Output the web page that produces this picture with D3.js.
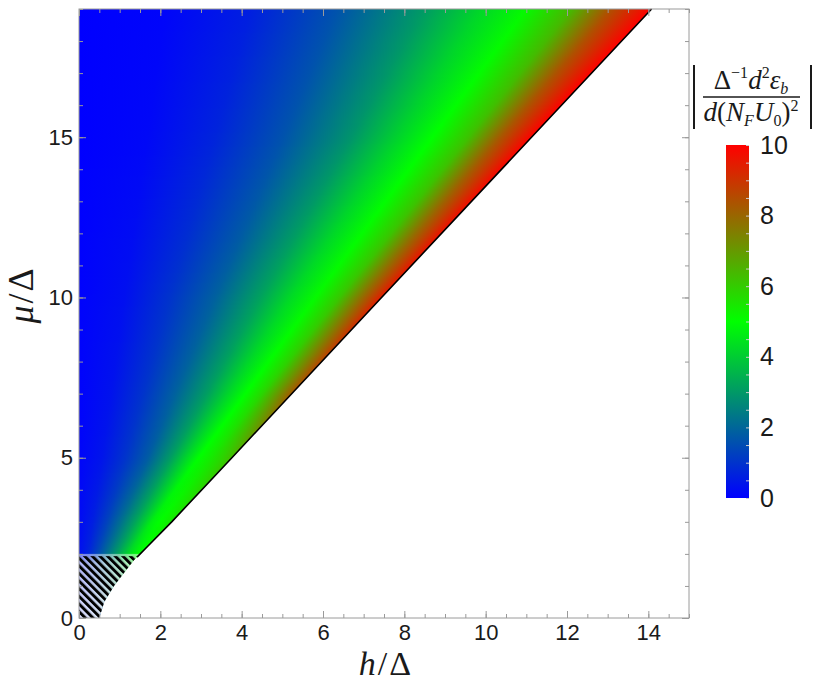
<!DOCTYPE html>
<html>
<head>
<meta charset="utf-8">
<script src="https://cdn.jsdelivr.net/npm/d3@7"></script>
<style>
  body { margin: 0; background: #fff; }
  text { font-family: "Liberation Sans", Arial, sans-serif; fill: #1a1a1a; }
  .math { font-family: "Liberation Serif", "DejaVu Serif", serif; }
</style>
</head>
<body>
<svg width="818" height="685"></svg>
<script>
// axis ticks
const hTicks = [0, 2, 4, 6, 8, 10, 12, 14];
const muTicks = [0, 5, 10, 15];
const cbTicks = [0, 2, 4, 6, 8, 10];

// edge of the allowed region, h/Δ as a function of μ/Δ
const boundaryMu = [0, 0.5, 1, 1.4, 1.8, 2.2, 3, 5, 10, 19];
const boundaryH  = [0.5, 0.62, 0.86, 1.1, 1.35, 1.66, 2.28, 3.76, 7.44, 14.08];

// colour value read along rows: t = h / h_edge(μ)
const tStops = [0, 0.15, 0.3, 0.45, 0.6, 0.7, 0.78, 0.86, 0.93, 1];
const rowMu = [2, 3, 5, 7, 10, 15, 19];
const rowVals = [
  [0.3, 0.7, 1.4, 2.2, 3.0, 3.6, 4.1, 4.5, 4.8, 5.0],    // μ=2
  [0.2, 0.6, 1.3, 2.2, 3.2, 4.0, 4.7, 5.0, 5.2, 5.4],    // μ=3
  [0.1, 0.4, 1.0, 1.8, 3.1, 4.2, 5.0, 5.4, 5.8, 6.3],    // μ=5
  [0.05, 0.35, 1.0, 1.9, 3.1, 4.2, 5.0, 5.8, 7.0, 8.3],  // μ=7
  [0.05, 0.3, 1.0, 1.9, 3.2, 4.3, 5.1, 6.1, 7.8, 9.5],   // μ=10
  [0.0, 0.15, 0.7, 1.6, 2.9, 4.1, 5.0, 6.2, 8.3, 10],    // μ=15
  [0.0, 0.1, 0.6, 1.6, 3.0, 4.2, 5.1, 6.4, 8.5, 10]      // μ=19
];

const svg = d3.select("svg");
const defs = svg.append("defs");

const x = d3.scaleLinear().domain([0, 15]).range([79, 689]);
const y = d3.scaleLinear().domain([0, 19]).range([618, 9]);
const color = d3.scaleLinear().domain([0, 5, 10])
  .range(["#0000ff", "#00ff00", "#ff0000"]).clamp(true);
const hb = d3.scaleLinear().domain(boundaryMu).range(boundaryH);

/* -----------------------------
   region clip
----------------------------- */
const edge = boundaryMu.map((m, i) => [boundaryH[i], m]);
const line = d3.line().x(d => x(d[0])).y(d => y(d[1]));
defs.append("clipPath").attr("id", "region")
  .append("path")
  .attr("d", line([[0, 0], ...edge, [0, 19]]) + "Z");

/* -----------------------------
   heat map, drawn row by row
----------------------------- */
const stopScales = tStops.map((t, j) =>
  d3.scaleLinear().domain(rowMu).range(rowVals.map(r => r[j])));

function rowGradient(id, mu) {
  const g = defs.append("linearGradient")
    .attr("id", id)
    .attr("gradientUnits", "userSpaceOnUse")
    .attr("x1", x(0)).attr("x2", x(hb(mu)))
    .attr("y1", 0).attr("y2", 0);
  tStops.forEach((t, j) => {
    g.append("stop").attr("offset", t).attr("stop-color", color(stopScales[j](mu)));
  });
}

const heat = svg.append("g").attr("clip-path", "url(#region)");
const dMu = 2 * 19 / 609;
let k = 0;
for (let m = 2; m < 19; m += dMu) {
  const top = Math.min(m + dMu, 19);
  const mc = (m + top) / 2;
  rowGradient("row" + k, mc);
  heat.append("rect")
    .attr("x", x(0) - 1)
    .attr("y", y(top) - 0.6)
    .attr("width", x(hb(top)) - x(0) + 4)
    .attr("height", y(m) - y(top) + 1.2)
    .attr("fill", `url(#row${k})`);
  k++;
}

/* -----------------------------
   hatched part (μ < 2)
----------------------------- */
rowGradient("rowLow", 2);
const fade = defs.append("linearGradient").attr("id", "fade")
  .attr("gradientUnits", "userSpaceOnUse")
  .attr("x1", 0).attr("x2", 0).attr("y1", y(2)).attr("y2", y(0));
fade.append("stop").attr("offset", 0).attr("stop-color", "#fff").attr("stop-opacity", 0.45);
fade.append("stop").attr("offset", 0.15).attr("stop-color", "#fff").attr("stop-opacity", 0.68);
fade.append("stop").attr("offset", 1).attr("stop-color", "#fff").attr("stop-opacity", 0.86);

const hatch = defs.append("pattern").attr("id", "hatch")
  .attr("patternUnits", "userSpaceOnUse")
  .attr("width", 5.4).attr("height", 10)
  .attr("patternTransform", "rotate(-45)");
hatch.append("rect").attr("width", 2.9).attr("height", 10).attr("fill", "#000");

const low = svg.append("g").attr("clip-path", "url(#region)");
low.append("rect")
  .attr("x", x(0)).attr("y", y(2))
  .attr("width", x(hb(2)) - x(0) + 2).attr("height", y(0) - y(2))
  .attr("fill", "url(#rowLow)");
low.append("rect")
  .attr("x", x(0)).attr("y", y(2))
  .attr("width", x(hb(2)) - x(0) + 2).attr("height", y(0) - y(2))
  .attr("fill", "url(#fade)");
low.append("rect")
  .attr("x", x(0)).attr("y", y(1.93))
  .attr("width", x(hb(2)) - x(0) + 2).attr("height", y(0) - y(1.93))
  .attr("fill", "url(#hatch)");

// black edge line
const upperEdge = [[hb(1.9), 1.9], ...edge.filter(d => d[1] > 1.9)];
svg.append("path")
  .attr("d", line(upperEdge))
  .attr("fill", "none")
  .attr("stroke", "#000")
  .attr("stroke-width", 1.6);

/* -----------------------------
   frame and ticks
----------------------------- */
const frameColor = "#9a9a9a";
svg.append("rect")
  .attr("x", x(0)).attr("y", y(19))
  .attr("width", x(15) - x(0)).attr("height", y(0) - y(19))
  .attr("fill", "none").attr("stroke", frameColor);

const hMinor = d3.range(0, 15.01, 0.5);
const muMinor = d3.range(0, 19.01, 1);

function styleAxis(g) {
  g.select(".domain").remove();
  g.selectAll(".tick line").attr("stroke", frameColor);
  g.selectAll(".tick text").attr("font-size", 22).attr("fill", "#1a1a1a")
    .attr("font-family", "Liberation Sans, Arial, sans-serif");
}

// bottom
svg.append("g").attr("transform", `translate(0,${y(0)})`)
  .call(d3.axisBottom(x).tickValues(hMinor).tickSize(-4).tickFormat(""))
  .call(styleAxis);
svg.append("g").attr("transform", `translate(0,${y(0)})`)
  .call(d3.axisBottom(x).tickValues(hTicks).tickSize(-7).tickPadding(6).tickFormat(d3.format("d")))
  .call(styleAxis);
// top
svg.append("g").attr("transform", `translate(0,${y(19)})`)
  .call(d3.axisTop(x).tickValues(hMinor).tickSize(-4).tickFormat(""))
  .call(styleAxis);
svg.append("g").attr("transform", `translate(0,${y(19)})`)
  .call(d3.axisTop(x).tickValues(hTicks).tickSize(-7).tickFormat(""))
  .call(styleAxis);
// left
svg.append("g").attr("transform", `translate(${x(0)},0)`)
  .call(d3.axisLeft(y).tickValues(muMinor).tickSize(-4).tickFormat(""))
  .call(styleAxis);
svg.append("g").attr("transform", `translate(${x(0)},0)`)
  .call(d3.axisLeft(y).tickValues(muTicks).tickSize(-7).tickPadding(6).tickFormat(d3.format("d")))
  .call(styleAxis);
// right
svg.append("g").attr("transform", `translate(${x(15)},0)`)
  .call(d3.axisRight(y).tickValues(muMinor).tickSize(-4).tickFormat(""))
  .call(styleAxis);
svg.append("g").attr("transform", `translate(${x(15)},0)`)
  .call(d3.axisRight(y).tickValues(muTicks).tickSize(-7).tickFormat(""))
  .call(styleAxis);

/* -----------------------------
   axis titles
----------------------------- */
const xt = svg.append("text").attr("class", "math")
  .attr("x", 386).attr("y", 675)
  .attr("text-anchor", "middle").attr("font-size", 34)
  .attr("letter-spacing", 2);
xt.append("tspan").attr("font-style", "italic").text("h");
xt.append("tspan").text("/Δ");

const yt = svg.append("text").attr("class", "math")
  .attr("transform", "translate(33,295) rotate(-90)")
  .attr("text-anchor", "middle").attr("font-size", 36)
  .attr("letter-spacing", 2);
yt.append("tspan").attr("font-style", "italic").text("μ");
yt.append("tspan").text("/Δ");

/* -----------------------------
   colour bar
----------------------------- */
const cy = d3.scaleLinear().domain([0, 10]).range([498, 145]);
const cbGrad = defs.append("linearGradient").attr("id", "cb")
  .attr("x1", 0).attr("x2", 0).attr("y1", 1).attr("y2", 0);
d3.range(0, 10.01, 1).forEach(v => {
  cbGrad.append("stop").attr("offset", v / 10).attr("stop-color", color(v));
});
svg.append("rect")
  .attr("x", 726).attr("y", cy(10))
  .attr("width", 23).attr("height", cy(0) - cy(10))
  .attr("fill", "url(#cb)");

svg.append("g").attr("transform", "translate(749,0)")
  .call(d3.axisRight(cy).tickValues(d3.range(0, 10.01, 0.5)).tickSize(-3).tickFormat(""))
  .call(g => { g.select(".domain").remove(); g.selectAll("line").attr("stroke", "#ccc"); });
svg.append("g").attr("transform", "translate(749,0)")
  .call(d3.axisRight(cy).tickValues(cbTicks).tickSize(0).tickPadding(11).tickFormat(d3.format("d")))
  .call(g => {
    g.select(".domain").remove();
    g.selectAll("text").attr("font-size", 25).attr("fill", "#1a1a1a")
      .attr("font-family", "Liberation Sans, Arial, sans-serif");
  });

// colour bar title |Δ^-1 d^2 ε_b / d(N_F U_0)^2|
const cbt = svg.append("g");
const num = cbt.append("text").attr("class", "math")
  .attr("x", 751).attr("y", 89).attr("text-anchor", "middle").attr("font-size", 27);
num.append("tspan").text("Δ");
num.append("tspan").attr("dy", -11).attr("font-size", 16).text("−1");
num.append("tspan").attr("dy", 11).attr("font-style", "italic").text("d");
num.append("tspan").attr("dy", -11).attr("font-size", 16).text("2");
num.append("tspan").attr("dy", 11).attr("font-style", "italic").text("ε");
num.append("tspan").attr("dy", 5).attr("font-size", 16).attr("font-style", "italic").text("b");

const den = cbt.append("text").attr("class", "math")
  .attr("x", 751).attr("y", 121).attr("text-anchor", "middle").attr("font-size", 27);
den.append("tspan").attr("font-style", "italic").text("d");
den.append("tspan").text("(");
den.append("tspan").attr("font-style", "italic").text("N");
den.append("tspan").attr("dy", 5).attr("font-size", 16).attr("font-style", "italic").text("F");
den.append("tspan").attr("dy", -5).attr("font-style", "italic").text("U");
den.append("tspan").attr("dy", 5).attr("font-size", 16).text("0");
den.append("tspan").attr("dy", -5).text(")");
den.append("tspan").attr("dy", -10).attr("font-size", 16).text("2");

cbt.append("line").attr("x1", 703).attr("x2", 800).attr("y1", 97).attr("y2", 97)
  .attr("stroke", "#1a1a1a").attr("stroke-width", 1.3);
[694, 811].forEach(bx => {
  cbt.append("line").attr("x1", bx).attr("x2", bx).attr("y1", 65).attr("y2", 129)
    .attr("stroke", "#1a1a1a").attr("stroke-width", 2);
});
</script>
</body>
</html>
